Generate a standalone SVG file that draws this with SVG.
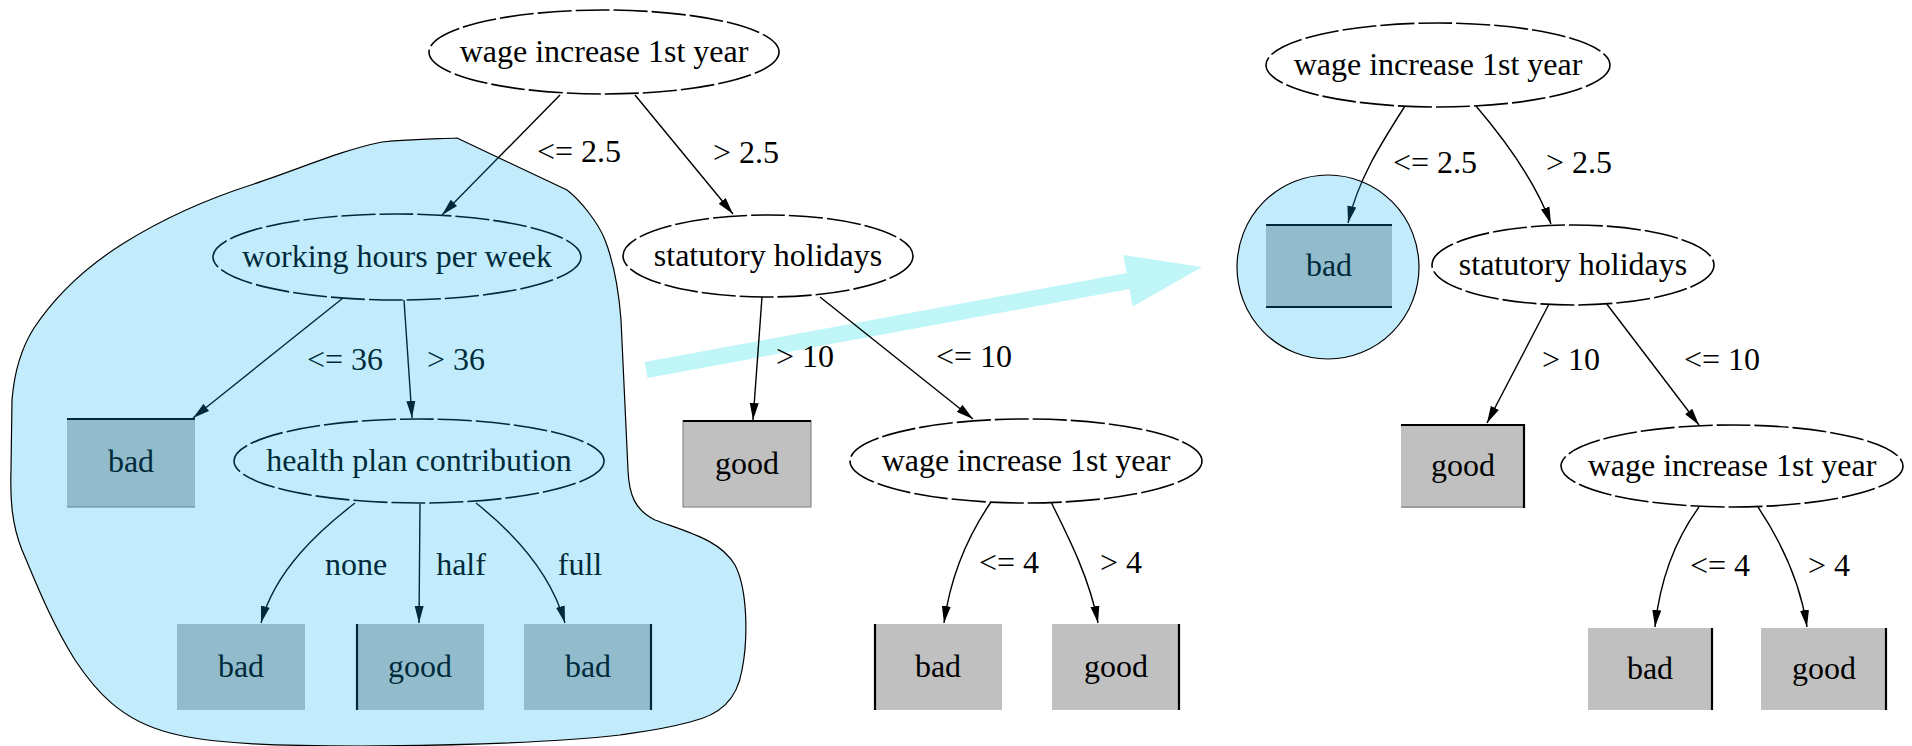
<svg xmlns="http://www.w3.org/2000/svg" width="1912" height="746" viewBox="0 0 1912 746">
<defs>
<style>
.bg{fill:#ffffff}
.ell{fill:#ffffff;stroke:#000;stroke-width:1.6;stroke-dasharray:34 4}
.box{fill:#c0c0c0}
.bl{stroke:#000;stroke-width:2.2}
.gl{stroke:#7a7a7a;stroke-width:1.2}
.t{font-family:"Liberation Serif","Times New Roman",serif;font-size:32px;fill:#000;text-anchor:middle}
.e{fill:none;stroke:#000;stroke-width:1.4;marker-end:url(#ah)}
.hl{fill:rgb(0,176,243);fill-opacity:0.24;stroke:#000;stroke-width:1.2}
.big{fill:#c0f6f8}
</style>
<marker id="ah" markerWidth="17" markerHeight="10" refX="17" refY="5" orient="auto" markerUnits="userSpaceOnUse">
<path d="M0,0.5 L17,5 L0,9.5 z" fill="#000"/>
</marker>
</defs>
<rect class="bg" x="0" y="0" width="1912" height="746"/>

<g id="transfer-arrow">
<polygon class="big" points="644.5,362 1126.5,273 1123.3,255 1202,267 1132.7,306.6 1129.5,289 647.5,378"/>
</g>

<g id="connectors">
<path class="e" d="M560,95 L442,215"/>
<path class="e" d="M635,95 L733,214"/>
<path class="e" d="M343,298 L193,418"/>
<path class="e" d="M404,300 L412,418"/>
<path class="e" d="M355,503 C320,530 275,570 261,623"/>
<path class="e" d="M420,504 L419,623"/>
<path class="e" d="M476,503 C510,530 550,570 565,623"/>
<path class="e" d="M762,297 L753,420"/>
<path class="e" d="M820,297 L973,419"/>
<path class="e" d="M991,502 C965,540 950,580 944,623"/>
<path class="e" d="M1051,502 C1070,540 1090,580 1098,623"/>
<path class="e" d="M1405,106 C1380,145 1358,180 1348,223"/>
<path class="e" d="M1476,106 C1505,140 1535,180 1551,224"/>
<path class="e" d="M1549,304 L1487,423"/>
<path class="e" d="M1606,303 L1699,425"/>
<path class="e" d="M1699,507 C1675,540 1660,580 1655,627"/>
<path class="e" d="M1758,507 C1780,540 1800,580 1807,627"/>
<text class="t" x="579" y="162">&lt;= 2.5</text>
<text class="t" x="746" y="163">&gt; 2.5</text>
<text class="t" x="345" y="370">&lt;= 36</text>
<text class="t" x="456" y="370">&gt; 36</text>
<text class="t" x="356" y="575">none</text>
<text class="t" x="461" y="575">half</text>
<text class="t" x="580" y="575">full</text>
<text class="t" x="805" y="367">&gt; 10</text>
<text class="t" x="974" y="367">&lt;= 10</text>
<text class="t" x="1009" y="573">&lt;= 4</text>
<text class="t" x="1121" y="573">&gt; 4</text>
<text class="t" x="1435" y="173">&lt;= 2.5</text>
<text class="t" x="1579" y="173">&gt; 2.5</text>
<text class="t" x="1571" y="370">&gt; 10</text>
<text class="t" x="1722" y="370">&lt;= 10</text>
<text class="t" x="1720" y="576">&lt;= 4</text>
<text class="t" x="1829" y="576">&gt; 4</text>
</g>

<g id="n1"><ellipse class="ell" cx="604" cy="52" rx="175" ry="42"/><text class="t" x="604" y="62">wage increase 1st year</text></g>
<g id="n2"><ellipse class="ell" cx="397" cy="257" rx="184" ry="43"/><text class="t" x="397" y="267">working hours per week</text></g>
<g id="n3"><ellipse class="ell" cx="768" cy="256" rx="145" ry="41"/><text class="t" x="768" y="266">statutory holidays</text></g>
<g id="n4"><rect class="box" x="67" y="419" width="128" height="88"/><line class="bl" x1="67" y1="419" x2="195" y2="419"/><line class="gl" x1="67" y1="507" x2="195" y2="507"/><text class="t" x="131" y="472">bad</text></g>
<g id="n5"><ellipse class="ell" cx="419" cy="461" rx="185" ry="42"/><text class="t" x="419" y="471">health plan contribution</text></g>
<g id="n6"><rect class="box" x="683" y="421" width="128" height="86" stroke="#8a8a8a" stroke-width="1.2"/><line class="bl" x1="683" y1="421" x2="811" y2="421"/><text class="t" x="747" y="474">good</text></g>
<g id="n7"><ellipse class="ell" cx="1026" cy="461" rx="176" ry="42"/><text class="t" x="1026" y="471">wage increase 1st year</text></g>
<g id="n8"><rect class="box" x="177" y="624" width="128" height="86"/><text class="t" x="241" y="677">bad</text></g>
<g id="n9"><rect class="box" x="356" y="624" width="128" height="86"/><line class="bl" x1="357" y1="624" x2="357" y2="710"/><text class="t" x="420" y="677">good</text></g>
<g id="n10"><rect class="box" x="524" y="624" width="128" height="86"/><line class="bl" x1="651" y1="624" x2="651" y2="710"/><text class="t" x="588" y="677">bad</text></g>
<g id="n11"><rect class="box" x="874" y="624" width="128" height="86"/><line class="bl" x1="875" y1="624" x2="875" y2="710"/><text class="t" x="938" y="677">bad</text></g>
<g id="n12"><rect class="box" x="1052" y="624" width="128" height="86"/><line class="bl" x1="1179" y1="624" x2="1179" y2="710"/><text class="t" x="1116" y="677">good</text></g>

<g id="r1"><ellipse class="ell" cx="1438" cy="65" rx="172" ry="42"/><text class="t" x="1438" y="75">wage increase 1st year</text></g>
<g id="r2"><rect class="box" x="1266" y="224" width="126" height="84"/><line class="bl" x1="1266" y1="225" x2="1392" y2="225"/><line class="bl" x1="1266" y1="307" x2="1392" y2="307"/><text class="t" x="1329" y="276">bad</text></g>
<g id="r3"><ellipse class="ell" cx="1573" cy="265" rx="141" ry="40"/><text class="t" x="1573" y="275">statutory holidays</text></g>
<g id="r4"><rect class="box" x="1401" y="424" width="124" height="84"/><line class="gl" x1="1401" y1="507" x2="1525" y2="507"/><line class="bl" x1="1401" y1="425" x2="1525" y2="425"/><line class="bl" x1="1524" y1="424" x2="1524" y2="508"/><text class="t" x="1463" y="476">good</text></g>
<g id="r5"><ellipse class="ell" cx="1732" cy="466" rx="171" ry="41"/><text class="t" x="1732" y="476">wage increase 1st year</text></g>
<g id="r6"><rect class="box" x="1588" y="628" width="125" height="82"/><line class="bl" x1="1712" y1="628" x2="1712" y2="710"/><text class="t" x="1650" y="679">bad</text></g>
<g id="r7"><rect class="box" x="1761" y="628" width="126" height="82"/><line class="bl" x1="1886" y1="628" x2="1886" y2="710"/><text class="t" x="1824" y="679">good</text></g>

<g id="highlight-subtree">
<path class="hl" d="M457,138 L567,190 C580,200 598,222 605,240 C612,258 618,280 621,320 L628,470 C629,495 635,510 655,520 C690,533 720,540 735,565 C748,590 748,640 742,670 C737,700 720,715 690,722 C660,730 640,732 620,735 C540,744 420,746 360,746 C280,746 210,744 170,733 C120,720 95,690 75,660 C50,620 35,580 22,550 C12,525 10,500 11,470 L12,400 C14,375 20,350 34,328 C54,298 84,268 124,243 C164,218 204,200 254,184 C302,168 342,150 382,142 C412,139 437,139 457,138 Z"/>
</g>
<g id="highlight-leaf">
<ellipse class="hl" cx="1328" cy="267" rx="91" ry="92"/>
</g>
</svg>
